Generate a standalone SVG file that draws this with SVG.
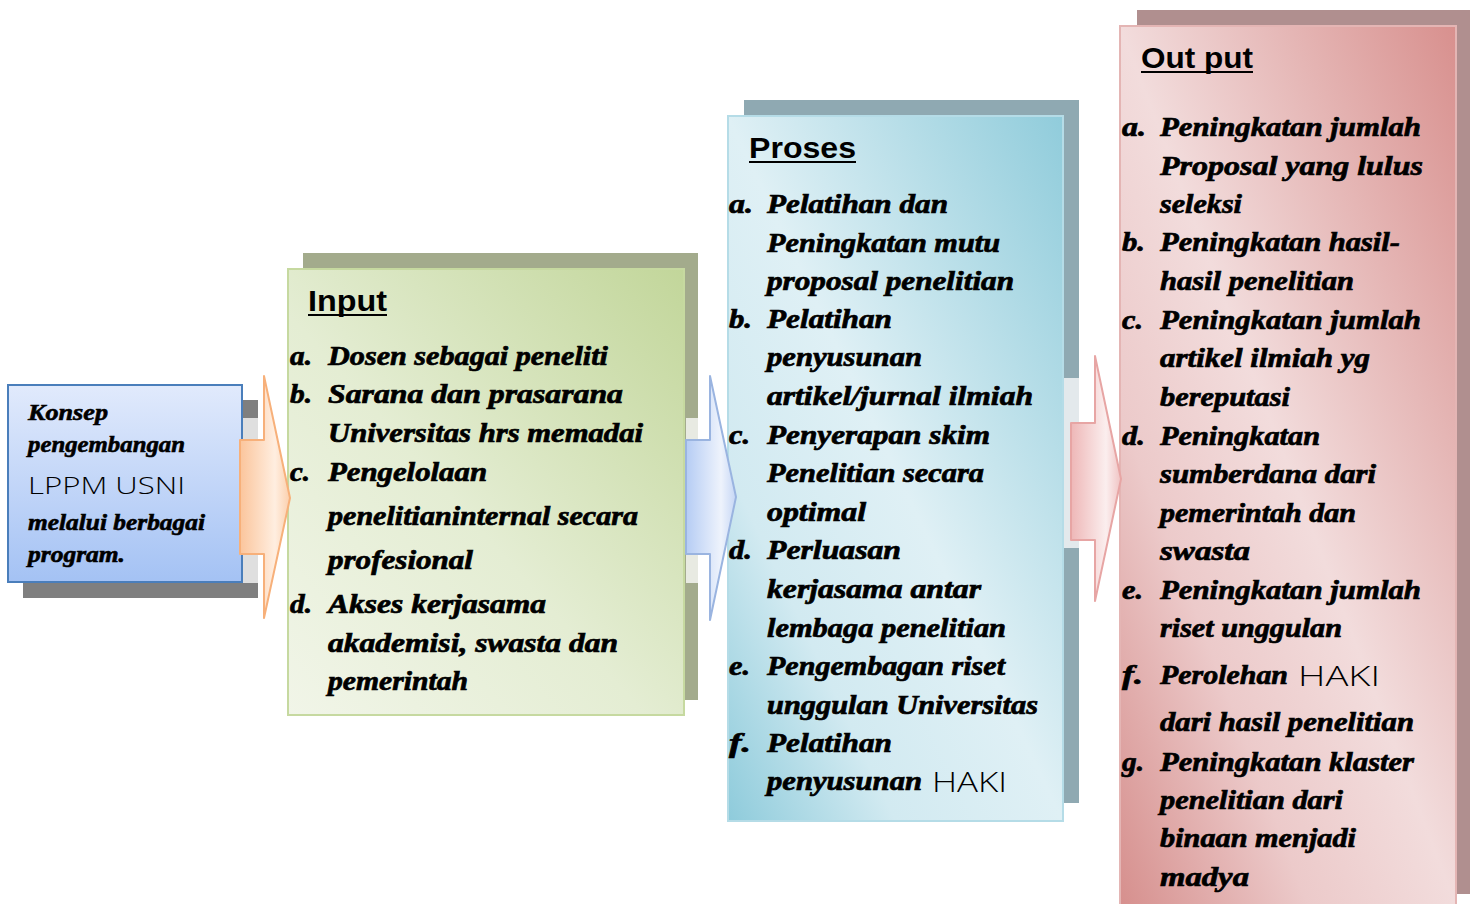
<svg xmlns="http://www.w3.org/2000/svg" width="1478" height="904" viewBox="0 0 1478 904">
<defs>
<linearGradient id="gConcept" x1="0" y1="0" x2="0" y2="1">
<stop offset="0" stop-color="#e1eafc"/><stop offset="1" stop-color="#a4c2f4"/>
</linearGradient>
<linearGradient id="gInput" x1="1" y1="0" x2="0" y2="1">
<stop offset="0" stop-color="#c2d69a"/><stop offset="0.55" stop-color="#e4edd3"/><stop offset="1" stop-color="#f1f5e8"/>
</linearGradient>
<linearGradient id="gProses" x1="1" y1="0" x2="0" y2="1">
<stop offset="0" stop-color="#90ccdb"/><stop offset="0.5" stop-color="#dff0f5"/><stop offset="0.75" stop-color="#d2eaf1"/><stop offset="1" stop-color="#8ecbdb"/>
</linearGradient>
<linearGradient id="gOutput" x1="1" y1="0" x2="0" y2="1">
<stop offset="0" stop-color="#d8908e"/><stop offset="0.5" stop-color="#f2dcdc"/><stop offset="0.72" stop-color="#eccaca"/><stop offset="1" stop-color="#d68f8d"/>
</linearGradient>
<linearGradient id="gArrowO" x1="0" y1="0" x2="1" y2="0">
<stop offset="0" stop-color="#fbc59c"/><stop offset="0.7" stop-color="#ffeee0"/><stop offset="1" stop-color="#fbcfac"/>
</linearGradient>
<linearGradient id="gArrowB" x1="0" y1="0" x2="1" y2="0">
<stop offset="0" stop-color="#b5ccf4"/><stop offset="0.7" stop-color="#eef3fc"/><stop offset="1" stop-color="#c5d6f5"/>
</linearGradient>
<linearGradient id="gArrowP" x1="0" y1="0" x2="1" y2="0">
<stop offset="0" stop-color="#eeb7b7"/><stop offset="0.7" stop-color="#fbeeee"/><stop offset="1" stop-color="#f0c3c3"/>
</linearGradient>
</defs>
<style>
.s{font-family:"Liberation Serif","DejaVu Serif",serif;font-weight:bold;font-style:italic;font-size:27px;fill:#000;stroke:#000;stroke-width:0.7}
.sc{font-family:"Liberation Serif","DejaVu Serif",serif;font-weight:bold;font-style:italic;font-size:23px;fill:#000;stroke:#000;stroke-width:0.6}
.h{font-family:"Open Sans","DejaVu Sans",sans-serif;font-weight:300;fill:#000}
.t{font-family:"Liberation Sans",Arial,sans-serif;font-weight:bold;font-size:30px;fill:#000}
.ul{stroke:#000;stroke-width:2}
</style>
<rect width="1478" height="904" fill="#ffffff"/>

<g id="node-concept">
<rect x="23" y="400" width="235" height="198" fill="#7f7f7f"/>
<rect x="8" y="385" width="234" height="197" fill="url(#gConcept)" stroke="#4a7ebb" stroke-width="2"/>
<text class="sc" x="28" y="420" textLength="80" lengthAdjust="spacingAndGlyphs">Konsep</text>
<text class="sc" x="28" y="452" textLength="157" lengthAdjust="spacingAndGlyphs">pengembangan</text>
<text class="h" x="28" y="494" font-size="24" textLength="157" lengthAdjust="spacingAndGlyphs">LPPM USNI</text>
<text class="sc" x="28" y="530" textLength="177" lengthAdjust="spacingAndGlyphs">melalui berbagai</text>
<text class="sc" x="28" y="562" textLength="97" lengthAdjust="spacingAndGlyphs">program.</text>
</g>

<g id="node-input">
<rect x="303" y="253" width="395" height="447" fill="#a3ab8c"/>
<rect x="288" y="269" width="396" height="446" fill="url(#gInput)" stroke="#c6d9a0" stroke-width="2"/>
<text class="t" x="308" y="311" textLength="79" lengthAdjust="spacingAndGlyphs">Input</text>
<line class="ul" x1="308" y1="315" x2="387" y2="315"/>
<g class="s">
<text x="290" y="365" textLength="22" lengthAdjust="spacingAndGlyphs">a.</text>
<text x="328" y="365" textLength="280" lengthAdjust="spacingAndGlyphs">Dosen sebagai peneliti</text>
<text x="290" y="403" textLength="22" lengthAdjust="spacingAndGlyphs">b.</text>
<text x="328" y="403" textLength="295" lengthAdjust="spacingAndGlyphs">Sarana dan prasarana</text>
<text x="328" y="442" textLength="315" lengthAdjust="spacingAndGlyphs">Universitas hrs memadai</text>
<text x="290" y="481" textLength="20" lengthAdjust="spacingAndGlyphs">c.</text>
<text x="328" y="481" textLength="159" lengthAdjust="spacingAndGlyphs">Pengelolaan</text>
<text x="328" y="525" textLength="310" lengthAdjust="spacingAndGlyphs">penelitianinternal secara</text>
<text x="328" y="569" textLength="145" lengthAdjust="spacingAndGlyphs">profesional</text>
<text x="290" y="613" textLength="22" lengthAdjust="spacingAndGlyphs">d.</text>
<text x="328" y="613" textLength="218" lengthAdjust="spacingAndGlyphs">Akses kerjasama</text>
<text x="328" y="652" textLength="290" lengthAdjust="spacingAndGlyphs">akademisi, swasta dan</text>
<text x="328" y="690" textLength="140" lengthAdjust="spacingAndGlyphs">pemerintah</text>
</g>
</g>

<g id="node-proses">
<rect x="744" y="100" width="335" height="703" fill="#8fa9b2"/>
<rect x="728" y="116" width="335" height="705" fill="url(#gProses)" stroke="#b5dce7" stroke-width="2"/>
<text class="t" x="749" y="158" textLength="107" lengthAdjust="spacingAndGlyphs">Proses</text>
<line class="ul" x1="749" y1="162" x2="856" y2="162"/>
<g class="s">
<text x="729" y="213" textLength="24" lengthAdjust="spacingAndGlyphs">a.</text>
<text x="767" y="213" textLength="181" lengthAdjust="spacingAndGlyphs">Pelatihan dan</text>
<text x="767" y="252" textLength="233" lengthAdjust="spacingAndGlyphs">Peningkatan mutu</text>
<text x="767" y="290" textLength="247" lengthAdjust="spacingAndGlyphs">proposal penelitian</text>
<text x="729" y="328" textLength="23" lengthAdjust="spacingAndGlyphs">b.</text>
<text x="767" y="328" textLength="125" lengthAdjust="spacingAndGlyphs">Pelatihan</text>
<text x="767" y="366" textLength="155" lengthAdjust="spacingAndGlyphs">penyusunan</text>
<text x="767" y="405" textLength="266" lengthAdjust="spacingAndGlyphs">artikel/jurnal ilmiah</text>
<text x="729" y="444" textLength="21" lengthAdjust="spacingAndGlyphs">c.</text>
<text x="767" y="444" textLength="223" lengthAdjust="spacingAndGlyphs">Penyerapan skim</text>
<text x="767" y="482" textLength="217" lengthAdjust="spacingAndGlyphs">Penelitian secara</text>
<text x="767" y="521" textLength="99" lengthAdjust="spacingAndGlyphs">optimal</text>
<text x="729" y="559" textLength="23" lengthAdjust="spacingAndGlyphs">d.</text>
<text x="767" y="559" textLength="134" lengthAdjust="spacingAndGlyphs">Perluasan</text>
<text x="767" y="598" textLength="214" lengthAdjust="spacingAndGlyphs">kerjasama antar</text>
<text x="767" y="637" textLength="239" lengthAdjust="spacingAndGlyphs">lembaga penelitian</text>
<text x="729" y="675" textLength="21" lengthAdjust="spacingAndGlyphs">e.</text>
<text x="767" y="675" textLength="238" lengthAdjust="spacingAndGlyphs">Pengembagan riset</text>
<text x="767" y="714" textLength="271" lengthAdjust="spacingAndGlyphs">unggulan Universitas</text>
<text x="729" y="752" textLength="22" lengthAdjust="spacingAndGlyphs">f.</text>
<text x="767" y="752" textLength="125" lengthAdjust="spacingAndGlyphs">Pelatihan</text>
<text x="767" y="790" textLength="155" lengthAdjust="spacingAndGlyphs">penyusunan</text>
</g>
<text class="h" x="932" y="792" font-size="28" textLength="75" lengthAdjust="spacingAndGlyphs">HAKI</text>
</g>

<g id="node-output">
<rect x="1137" y="10" width="333" height="884" fill="#b08f8f"/>
<rect x="1120" y="26" width="336" height="880" fill="url(#gOutput)" stroke="#e4b5b4" stroke-width="2"/>
<text class="t" x="1141" y="68" textLength="112" lengthAdjust="spacingAndGlyphs">Out put</text>
<line class="ul" x1="1141" y1="72" x2="1253" y2="72"/>
<g class="s">
<text x="1122" y="136" textLength="24" lengthAdjust="spacingAndGlyphs">a.</text>
<text x="1160" y="136" textLength="261" lengthAdjust="spacingAndGlyphs">Peningkatan jumlah</text>
<text x="1160" y="175" textLength="263" lengthAdjust="spacingAndGlyphs">Proposal yang lulus</text>
<text x="1160" y="213" textLength="82" lengthAdjust="spacingAndGlyphs">seleksi</text>
<text x="1122" y="251" textLength="23" lengthAdjust="spacingAndGlyphs">b.</text>
<text x="1160" y="251" textLength="240" lengthAdjust="spacingAndGlyphs">Peningkatan hasil-</text>
<text x="1160" y="290" textLength="194" lengthAdjust="spacingAndGlyphs">hasil penelitian</text>
<text x="1122" y="329" textLength="21" lengthAdjust="spacingAndGlyphs">c.</text>
<text x="1160" y="329" textLength="261" lengthAdjust="spacingAndGlyphs">Peningkatan jumlah</text>
<text x="1160" y="367" textLength="210" lengthAdjust="spacingAndGlyphs">artikel ilmiah yg</text>
<text x="1160" y="406" textLength="130" lengthAdjust="spacingAndGlyphs">bereputasi</text>
<text x="1122" y="445" textLength="23" lengthAdjust="spacingAndGlyphs">d.</text>
<text x="1160" y="445" textLength="160" lengthAdjust="spacingAndGlyphs">Peningkatan</text>
<text x="1160" y="483" textLength="216" lengthAdjust="spacingAndGlyphs">sumberdana dari</text>
<text x="1160" y="522" textLength="196" lengthAdjust="spacingAndGlyphs">pemerintah dan</text>
<text x="1160" y="560" textLength="90" lengthAdjust="spacingAndGlyphs">swasta</text>
<text x="1122" y="599" textLength="21" lengthAdjust="spacingAndGlyphs">e.</text>
<text x="1160" y="599" textLength="261" lengthAdjust="spacingAndGlyphs">Peningkatan jumlah</text>
<text x="1160" y="637" textLength="182" lengthAdjust="spacingAndGlyphs">riset unggulan</text>
<text x="1122" y="684" textLength="21" lengthAdjust="spacingAndGlyphs">f.</text>
<text x="1160" y="684" textLength="128" lengthAdjust="spacingAndGlyphs">Perolehan</text>
<text x="1160" y="731" textLength="254" lengthAdjust="spacingAndGlyphs">dari hasil penelitian</text>
<text x="1122" y="771" textLength="22" lengthAdjust="spacingAndGlyphs">g.</text>
<text x="1160" y="771" textLength="254" lengthAdjust="spacingAndGlyphs">Peningkatan klaster</text>
<text x="1160" y="809" textLength="183" lengthAdjust="spacingAndGlyphs">penelitian dari</text>
<text x="1160" y="847" textLength="196" lengthAdjust="spacingAndGlyphs">binaan menjadi</text>
<text x="1160" y="886" textLength="89" lengthAdjust="spacingAndGlyphs">madya</text>
</g>
<text class="h" x="1298" y="686" font-size="28" textLength="82" lengthAdjust="spacingAndGlyphs">HAKI</text>
</g>

<g id="connectors">
<rect x="243" y="418" width="44" height="165" fill="#ffffff" opacity="0.75"/>
<polygon points="240,440 264,440 264,376 290,498 264,618 264,554 240,554" fill="url(#gArrowO)" stroke="#f7b07a" stroke-width="2" stroke-linejoin="round"/>
<rect x="686" y="418" width="41" height="165" fill="#ffffff" opacity="0.75"/>
<polygon points="686,440 710,440 710,376 736,497 710,620 710,554 686,554" fill="url(#gArrowB)" stroke="#9ab4e0" stroke-width="2" stroke-linejoin="round"/>
<rect x="1064" y="378" width="55" height="170" fill="#ffffff" opacity="0.75"/>
<polygon points="1071,423 1095,423 1095,356 1121,479 1095,601 1095,540 1071,540" fill="url(#gArrowP)" stroke="#e7a5a4" stroke-width="2" stroke-linejoin="round"/>
</g>
</svg>
